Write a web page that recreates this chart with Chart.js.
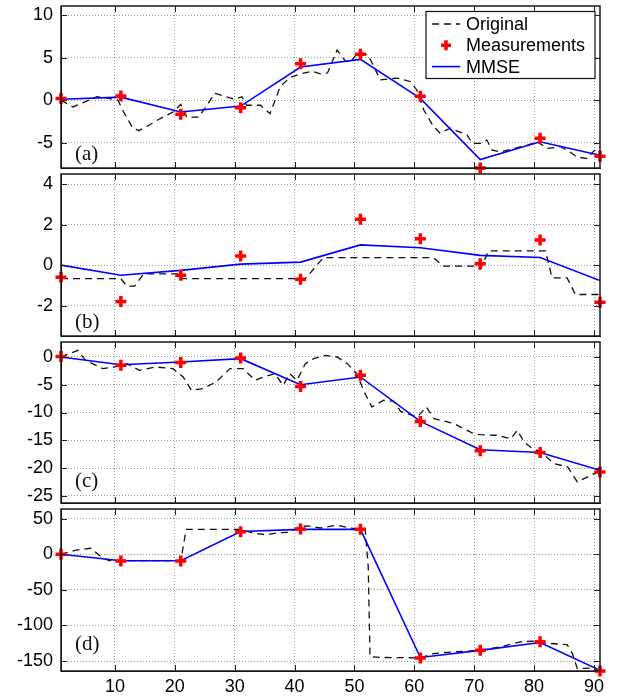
<!DOCTYPE html>
<html>
<head>
<meta charset="utf-8">
<title>MMSE tracking</title>
<script src="https://cdn.jsdelivr.net/npm/chart.js@4.4.1/dist/chart.umd.min.js"></script>
<style>
body { margin: 0; background: #fff; }
#wrap { position: relative; width: 619px; height: 698px; overflow: hidden; }
#wrap canvas { position: absolute; left: 0; }
</style>
</head>
<body>
<div id="wrap">
  <canvas id="pa"></canvas>
  <canvas id="pb"></canvas>
  <canvas id="pc"></canvas>
  <canvas id="pd"></canvas>
</div>
<script>
// sample positions shared by all panels
const measX = [1, 11, 21, 31, 41, 51, 61, 71, 81, 91];
const xTicks = [10, 20, 30, 40, 50, 60, 70, 80, 90];

// (a)
const measA = [0.2, 0.5, -1.65, -0.9, 4.3, 5.4, 0.45, -8.0, -4.5, -6.6];
const mmseA = [0.1, 0.35, -1.4, -0.7, 3.9, 4.8, 0.2, -7.0, -4.9, -6.5];
const origXA = [1, 3, 5, 7, 9, 10.5, 11.3, 13, 14, 15.3, 17.5, 19.7, 21, 22, 24, 26.7, 28.6, 30, 31.2, 32, 34.3, 35.9, 37.6, 39.3, 41, 43, 44.3, 45.5, 47.1, 48.5, 49.3, 50.7, 52.3, 54.3, 57.1, 59.3, 60.4, 61.6, 63.2, 64.3, 66, 67.4, 68.8, 69.7, 71, 72.1, 73, 74.4, 76.6, 78.9, 80.5, 82.2, 84.4, 85.5, 87.2, 88.9, 89.8, 91];
const origYA = [0, -0.8, -0.2, 0.4, 0.2, 0, -1.2, -3.3, -3.6, -3.1, -2.2, -1.4, -0.5, -2.0, -2.0, 0.8, 0.4, 0.1, 0.4, -0.6, -0.6, -1.6, 1.6, 2.7, 3.1, 3.4, 3.1, 3.2, 5.9, 4.6, 4.5, 5.7, 5.3, 2.4, 2.6, 2.2, 1.2, -1.2, -3.1, -3.9, -3.3, -3.7, -4.1, -5.1, -5.1, -4.7, -5.9, -6.1, -5.7, -5.3, -4.9, -5.7, -5.5, -5.9, -6.7, -6.9, -6.1, -5.5];
const yTicksA = [-5, 0, 5, 10];

// (b)
const measB = [-0.6, -1.8, -0.5, 0.45, -0.7, 2.26, 1.3, 0.07, 1.24, -1.83];
const mmseB = [0.0, -0.5, -0.26, 0.05, 0.15, 1.0, 0.86, 0.48, 0.38, -0.76];
const origXB = [1, 11, 12, 13.3, 14.8, 20.8, 21.2, 41.8, 44.8, 63.2, 64.8, 69.9, 71, 72.4, 81.9, 83, 85.5, 86.9, 91];
const origYB = [-0.67, -0.67, -1.04, -1.04, -0.43, -0.43, -0.67, -0.67, 0.37, 0.37, -0.05, -0.05, -0.2, 0.7, 0.7, -0.63, -0.63, -1.45, -1.45];
const yTicksB = [-2, 0, 2, 4];

// (c)
const measC = [0.1, -1.5, -1.0, -0.2, -5.3, -3.3, -11.6, -16.9, -17.2, -20.7];
const mmseC = [0, -1.4, -0.9, -0.3, -5.0, -3.6, -11.6, -16.7, -17.2, -20.4];
const origXC = [1, 3.8, 5.1, 8, 10, 12, 14.1, 16.8, 19.7, 21.4, 22.8, 24.7, 26.9, 29.2, 31.4, 33.4, 34.8, 36.7, 38.1, 39.2, 40.4, 41.8, 43.2, 45.1, 47.1, 48.8, 50.4, 51.5, 52.9, 54.9, 56.6, 57.7, 60.5, 62, 63.3, 66.6, 69.9, 71, 73.8, 76.1, 77.2, 78.3, 79.7, 81, 83.3, 85.6, 87.2, 89.5, 91];
const origYC = [0, 1.2, -0.6, -2.1, -1.8, -1.2, -2.4, -1.8, -2.1, -3.6, -6, -5.7, -4.5, -2.1, -2.1, -4.2, -3.6, -3.0, -5.1, -3.0, -4.2, -1.2, -0.3, 0.3, 0, -1.2, -3.0, -6, -9, -7.8, -8.0, -9.8, -10.8, -9.0, -11.1, -12, -13.8, -14, -14.1, -14.7, -13.2, -15.3, -16.5, -17, -19.2, -19.8, -22.5, -21.3, -20.4];
const yTicksC = [-25, -20, -15, -10, -5, 0];

// (d)
const measD = [0, -9.4, -9.4, 31.8, 35.6, 35.2, -145.6, -134.8, -123, -164];
const mmseD = [0, -9, -9, 32, 35, 35, -145, -135, -124, -163];
const origXD = [1, 3.5, 6, 7.7, 9, 21, 21.9, 31, 33.1, 35.3, 37, 39, 40.9, 42, 44.3, 47.1, 49.3, 51.8, 52.3, 52.6, 54.3, 61, 63.2, 66.6, 71, 74.4, 77.7, 80, 82.2, 85.5, 86.4, 87.2, 89.5, 91];
const origYD = [0, 6, 8.5, -3.4, -9, -9, 35.2, 35, 29.6, 27.5, 30, 31, 38.9, 40, 37, 41, 37, 34, -17, -144, -145, -145.5, -139.5, -137, -135, -130, -123, -122, -125, -127, -139.5, -160.6, -160, -164];
const yTicksD = [-150, -100, -50, 0, 50];

const W = 619, H = 698, LEFT = 61, RIGHT = 600, PAD = 26;
const SANS = "'Liberation Sans', Arial, sans-serif";
const SERIF = "'Liberation Serif', 'Times New Roman', serif";

function pts(xs, ys) {
  return xs.map((x, i) => ({ x: x, y: ys[i] }));
}

const boxPlugin = {
  id: 'box',
  afterDatasetsDraw(chart, args, opts) {
    const { ctx, chartArea: a } = chart;
    const xs = chart.scales.x, ys = chart.scales.y;
    ctx.save();
    // inward tick marks on all four sides
    ctx.strokeStyle = '#222';
    ctx.lineWidth = 1;
    ctx.beginPath();
    xs.ticks.forEach(t => {
      const px = Math.round(xs.getPixelForValue(t.value)) + 0.5;
      ctx.moveTo(px, a.top); ctx.lineTo(px, a.top + 6);
      ctx.moveTo(px, a.bottom); ctx.lineTo(px, a.bottom - 6);
    });
    ys.ticks.forEach(t => {
      const py = Math.round(ys.getPixelForValue(t.value)) + 0.5;
      ctx.moveTo(a.left, py); ctx.lineTo(a.left + 6, py);
      ctx.moveTo(a.right, py); ctx.lineTo(a.right - 6, py);
    });
    ctx.stroke();
    ctx.lineWidth = 1.5;
    ctx.strokeStyle = '#1a1a1a';
    ctx.strokeRect(a.left, a.top, a.right - a.left, a.bottom - a.top);
    // panel tag
    ctx.fillStyle = '#111';
    ctx.font = '21px ' + SERIF;
    ctx.textBaseline = 'middle';
    ctx.textAlign = 'left';
    ctx.fillText(opts.tag, a.left + 14, a.bottom - opts.tagUp);
    ctx.restore();
  },
  afterDraw(chart, args, opts) {
    if (!opts.legend) return;
    const { ctx, chartArea: a } = chart;
    const bx = a.right - 174, by = a.top + 5.5, bw = 169, bh = 67;
    ctx.save();
    ctx.fillStyle = '#fff';
    ctx.fillRect(bx, by, bw, bh);
    ctx.strokeStyle = '#111';
    ctx.lineWidth = 1.2;
    ctx.strokeRect(bx, by, bw, bh);
    ctx.font = '18px ' + SANS;
    ctx.textBaseline = 'middle';
    ctx.fillStyle = '#000';
    chart.data.datasets.forEach((ds, i) => {
      const cy = by + 12.5 + i * 21.3;
      const x0 = bx + 6, x1 = bx + 34;
      ctx.save();
      if (ds.showLine === false) {
        ctx.strokeStyle = ds.borderColor;
        ctx.lineWidth = 3.5;
        const cx = (x0 + x1) / 2;
        ctx.beginPath();
        ctx.moveTo(cx - 5, cy); ctx.lineTo(cx + 5, cy);
        ctx.moveTo(cx, cy - 5); ctx.lineTo(cx, cy + 5);
        ctx.stroke();
      } else {
        ctx.strokeStyle = ds.borderColor;
        ctx.lineWidth = ds.borderWidth;
        ctx.setLineDash(ds.borderDash || []);
        ctx.beginPath();
        ctx.moveTo(x0, cy); ctx.lineTo(x1, cy);
        ctx.stroke();
      }
      ctx.restore();
      ctx.fillText(ds.label, bx + 40, cy + 1);
    });
    ctx.restore();
  }
};

function makePanel(id, p, d) {
  const cv = document.getElementById(id);
  const top = p.top - PAD;
  const bottom = p.last ? H : p.bottom + PAD;
  cv.width = W;
  cv.height = bottom - top;
  cv.style.top = top + 'px';
  return new Chart(cv, {
    type: 'line',
    data: {
      datasets: [
        { label: 'Original', data: pts(d.origX, d.origY), borderColor: '#111', borderWidth: 1.3,
          borderDash: [7, 5], pointRadius: 0, tension: 0, order: 2 },
        { label: 'Measurements', data: pts(measX, d.meas), showLine: false, pointStyle: 'cross',
          pointRadius: 5.5, borderColor: '#ff0000', pointBorderColor: '#ff0000', pointBorderWidth: 3.5,
          clip: false, order: 0 },
        { label: 'MMSE', data: pts(measX, d.mmse), borderColor: '#0000ff', borderWidth: 1.6,
          pointRadius: 0, tension: 0, order: 1 }
      ]
    },
    options: {
      responsive: false,
      animation: false,
      devicePixelRatio: 1,
      layout: { padding: { top: PAD, bottom: p.last ? 0 : PAD, left: 0, right: W - RIGHT } },
      plugins: {
        legend: { display: false },
        tooltip: { enabled: false },
        box: { tag: d.tag, tagUp: d.tagUp, legend: !!d.legend }
      },
      scales: {
        x: {
          type: 'linear', min: 1, max: 91,
          afterBuildTicks: s => { s.ticks = xTicks.map(v => ({ value: v })); },
          afterFit: s => { s.height = p.last ? H - p.bottom : 0; },
          grid: { color: '#9a9a9a', lineWidth: 1, drawTicks: false },
          border: { display: true, color: '#000', dash: [1, 2] },
          ticks: { display: !!p.last, color: '#000', padding: 5, maxRotation: 0,
                   font: { family: SANS, size: 18 } }
        },
        y: {
          min: d.yMin, max: d.yMax,
          afterBuildTicks: s => { s.ticks = d.yTicks.map(v => ({ value: v })); },
          afterFit: s => { s.width = LEFT; },
          grid: { color: '#9a9a9a', lineWidth: 1, drawTicks: false },
          border: { display: true, color: '#000', dash: [1, 2] },
          ticks: { color: '#000', padding: 8, font: { family: SANS, size: 18 } }
        }
      }
    },
    plugins: [boxPlugin]
  });
}

makePanel('pa', { top: 6, bottom: 168 }, {
  meas: measA, mmse: mmseA, origX: origXA, origY: origYA, yTicks: yTicksA,
  yMin: -8, yMax: 11.1, tag: '(a)', tagUp: 14, legend: true
});
makePanel('pb', { top: 174, bottom: 336 }, {
  meas: measB, mmse: mmseB, origX: origXB, origY: origYB, yTicks: yTicksB,
  yMin: -3.5, yMax: 4.5, tag: '(b)', tagUp: 14
});
makePanel('pc', { top: 342, bottom: 503 }, {
  meas: measC, mmse: mmseC, origX: origXC, origY: origYC, yTicks: yTicksC,
  yMin: -26.3, yMax: 2.7, tag: '(c)', tagUp: 22
});
makePanel('pd', { top: 509, bottom: 671, last: true }, {
  meas: measD, mmse: mmseD, origX: origXD, origY: origYD, yTicks: yTicksD,
  yMin: -164, yMax: 63.7, tag: '(d)', tagUp: 27
});
</script>
</body>
</html>
